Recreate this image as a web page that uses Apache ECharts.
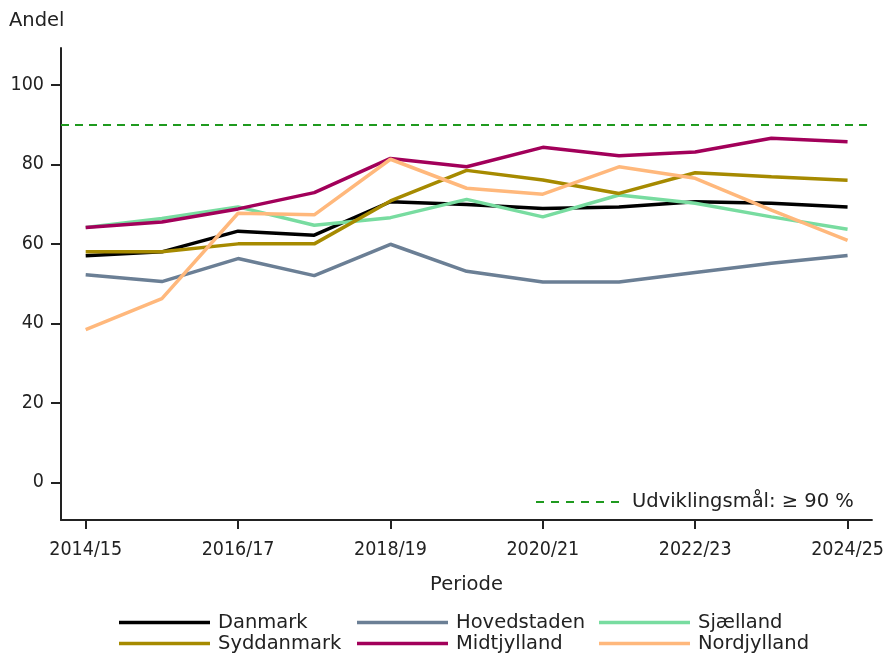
<!DOCTYPE html>
<html>
<head>
<meta charset="utf-8">
<script src="https://cdn.jsdelivr.net/npm/echarts@6/dist/echarts.min.js"></script>
<style>
  html, body { margin: 0; padding: 0; background: #fff; }
  #chart { width: 887px; height: 655px; }
</style>
</head>
<body>
<div id="chart"></div>
<script>
// perioder (x-akse)
var periods = ['2014/15', '2015/16', '2016/17', '2017/18', '2018/19', '2019/20',
  '2020/21', '2021/22', '2022/23', '2023/24', '2024/25'];
var xTicks = [0, 2, 4, 6, 8, 10];
var yTicks = [0, 20, 40, 60, 80, 100];
var goal = 90;

var danmark = [57.0, 58.0, 63.2, 62.2, 70.6, 69.9, 68.9, 69.3, 70.6, 70.2, 69.3];
var hovedstaden = [52.2, 50.5, 56.3, 52.0, 59.9, 53.1, 50.4, 50.4, 52.8, 55.1, 57.1];
var sjaelland = [64.1, 66.4, 69.3, 64.7, 66.6, 71.2, 66.8, 72.3, 70.2, 66.8, 63.7];
var syddanmark = [58.0, 58.0, 60.0, 60.0, 70.8, 78.5, 76.1, 72.7, 77.9, 76.9, 76.0];
var midtjylland = [64.1, 65.5, 68.8, 72.9, 81.5, 79.4, 84.3, 82.2, 83.1, 86.6, 85.7];
var nordjylland = [38.4, 46.2, 67.7, 67.3, 81.3, 74.0, 72.5, 79.4, 76.5, 68.5, 60.9];

var font = 'DejaVu Sans';
var tickFont = 'DejaVu Sans Condensed, DejaVu Sans';
var goalColor = '#1f9a1f';

// stiplet ikon til maallinjen i forklaringen
var dashIcon = 'path://M0,0h8v2h-8z M15,0h8v2h-8z M30,0h8v2h-8z M45,0h8v2h-8z M60,0h8v2h-8z M75,0h8v2h-8z';

function makeSeries(name, values, color) {
  return {
    name: name,
    type: 'line',
    symbol: 'none',
    lineStyle: { color: color, width: 3.5 },
    itemStyle: { color: color },
    data: values.map(function (v, i) { return [i, v]; })
  };
}

function makeLegend(names, left) {
  return {
    orient: 'vertical',
    left: left,
    top: 612,
    icon: 'rect',
    itemWidth: 91,
    itemHeight: 3.5,
    itemGap: 0,
    padding: 0,
    textStyle: { fontFamily: font, fontSize: 19.5, color: '#222', lineHeight: 21, padding: [0, 0, 0, 3] },
    data: names
  };
}

var chart = echarts.init(document.getElementById('chart'));

var option = {
  animation: false,
  title: {
    text: 'Andel',
    left: 9,
    top: 11,
    padding: 0,
    textStyle: { fontFamily: font, fontSize: 19.5, fontWeight: 'normal', color: '#222' }
  },
  grid: { left: 61, right: 15, top: 48, bottom: 135 },
  legend: [
    makeLegend(['Danmark', 'Syddanmark'], 119),
    makeLegend(['Hovedstaden', 'Midtjylland'], 357),
    makeLegend(['Sjælland', 'Nordjylland'], 599),
    {
      left: 536,
      top: 491,
      icon: dashIcon,
      itemWidth: 83,
      itemHeight: 2,
      padding: 0,
      textStyle: { fontFamily: font, fontSize: 19.5, color: '#222', lineHeight: 22, padding: [0, 0, 0, 8] },
      data: ['Udviklingsmål: ≥ 90 %']
    }
  ],
  xAxis: {
    type: 'value',
    min: -0.324,
    max: 10.32,
    name: 'Periode',
    nameLocation: 'middle',
    nameGap: 55,
    nameTextStyle: { fontFamily: font, fontSize: 19.5, color: '#222' },
    axisLine: { onZero: false, lineStyle: { color: '#222', width: 2 } },
    axisTick: { length: 9, customValues: xTicks, lineStyle: { color: '#222', width: 2 } },
    axisLabel: {
      customValues: xTicks,
      margin: 20,
      fontFamily: tickFont,
      fontSize: 19.5,
      color: '#222',
      formatter: function (v) { return periods[Math.round(v)]; }
    },
    splitLine: { show: false }
  },
  yAxis: {
    type: 'value',
    min: -9.5,
    max: 109.3,
    axisLine: { show: true, onZero: false, lineStyle: { color: '#222', width: 2 } },
    axisTick: { show: true, length: 10, customValues: yTicks, lineStyle: { color: '#222', width: 2 } },
    axisLabel: {
      customValues: yTicks,
      margin: 17,
      fontFamily: tickFont,
      fontSize: 19.5,
      color: '#222'
    },
    splitLine: { show: false }
  },
  series: [
    makeSeries('Danmark', danmark, '#000000'),
    makeSeries('Hovedstaden', hovedstaden, '#6b7f95'),
    makeSeries('Sjælland', sjaelland, '#78dca0'),
    makeSeries('Syddanmark', syddanmark, '#a68a00'),
    makeSeries('Midtjylland', midtjylland, '#a2005a'),
    makeSeries('Nordjylland', nordjylland, '#ffb87c'),
    {
      name: 'Udviklingsmål: ≥ 90 %',
      type: 'line',
      symbol: 'none',
      lineStyle: { color: goalColor, width: 2, type: [8, 6] },
      itemStyle: { color: goalColor },
      data: [],
      markLine: {
        silent: true,
        symbol: 'none',
        label: { show: false },
        lineStyle: { color: goalColor, width: 2, type: [8, 6] },
        data: [{ yAxis: goal }]
      }
    }
  ]
};

chart.setOption(option);
</script>
</body>
</html>
